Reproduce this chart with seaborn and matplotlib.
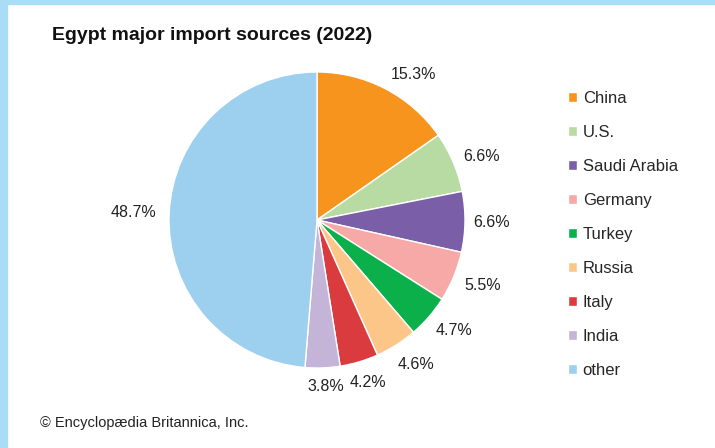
import matplotlib
matplotlib.use("Agg")
import matplotlib.pyplot as plt
import matplotlib.patches as mpatches
import numpy as np
import seaborn as sns

sns.set_theme(style="white")
plt.rcParams['font.family'] = ['Liberation Sans', 'DejaVu Sans']

# data
countries = ["China", "U.S.", "Saudi Arabia", "Germany", "Turkey",
             "Russia", "Italy", "India", "other"]
shares = [15.3, 6.6, 6.6, 5.5, 4.7, 4.6, 4.2, 3.8, 48.7]
colors = ["#F7941D", "#B7DBA2", "#7B5EA8", "#F6A9A7", "#0BB04B",
          "#FDC689", "#DA3B3F", "#C3B4D8", "#9DCFEE"]
# label placement: distance (fraction of radius) and angular nudge (deg, clockwise)
label_dist = [1.18, 1.19, 1.18, 1.2, 1.19, 1.18, 1.15, 1.13, 1.24]
label_nudge = [6, 2, 0, -1, -2, -2, -1, -1, 0]

W, H = 715, 448
fig = plt.figure(figsize=(W / 100, H / 100), dpi=100)
fig.patch.set_facecolor("white")

# light blue frame on top and left
fig.patches.append(mpatches.Rectangle((0, 1 - 4 / H), 1, 4 / H, transform=fig.transFigure,
                                      color="#A9DDF7", zorder=0))
fig.patches.append(mpatches.Rectangle((0, 0), 7 / W, 1, transform=fig.transFigure,
                                      color="#A9DDF7", zorder=0))

cx, cy, r = 317, 220, 148
ax = fig.add_axes([(cx - r) / W, 1 - (cy + r) / H, 2 * r / W, 2 * r / H])
wedges, _ = ax.pie(shares, colors=colors, startangle=90, counterclock=False,
                   radius=1, wedgeprops=dict(edgecolor="white", linewidth=1.0))
ax.set_xlim(-1, 1)
ax.set_ylim(-1, 1)
ax.axis("off")

for w, val, d, nd in zip(wedges, shares, label_dist, label_nudge):
    ang = np.deg2rad((w.theta1 + w.theta2) / 2 - nd)
    ax.text(d * np.cos(ang), d * np.sin(ang), f"{val}%", ha="center", va="center",
            fontsize=11.5, color="#222222", clip_on=False)

fig.text(52 / W, 1 - 35 / H, "Egypt major import sources (2022)", fontsize=14,
         fontweight="bold", color="#111111", ha="left", va="center")

fig.legend(wedges, countries, loc="upper left", bbox_to_anchor=(561 / W, 1 - 84 / H),
           frameon=False, fontsize=12, handlelength=0.55, handleheight=0.55,
           handletextpad=0.35, labelspacing=1.145, borderaxespad=0)

fig.text(40 / W, 1 - 423 / H, "\u00a9 Encyclop\u00e6dia Britannica, Inc.", fontsize=10.5,
         color="#222222", ha="left", va="center")

fig.savefig("out.png", dpi=100)
